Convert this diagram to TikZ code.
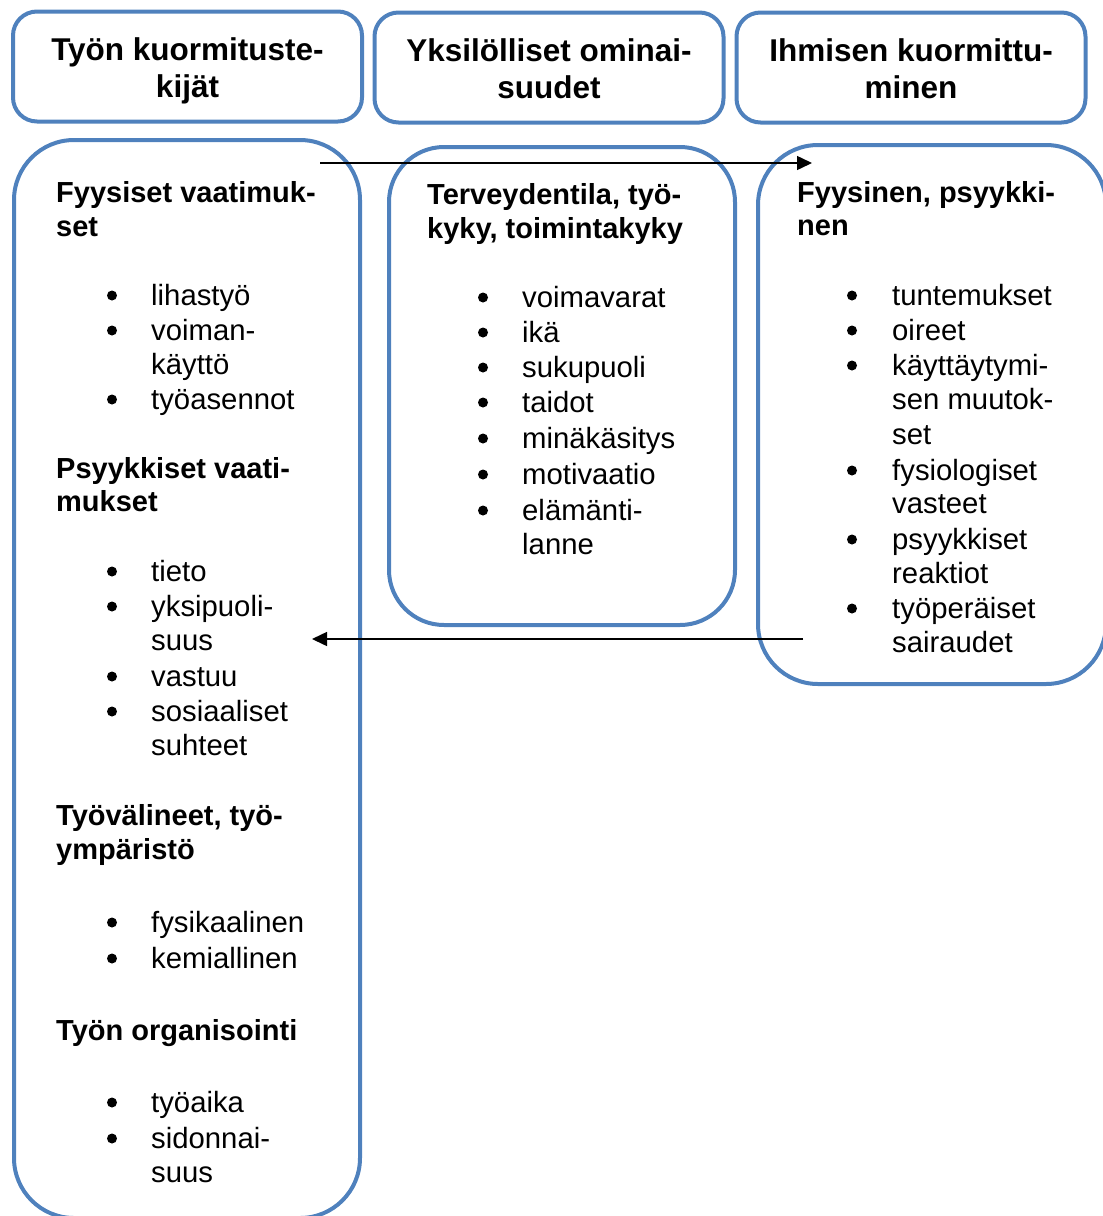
\documentclass[tikz,border=0pt]{standalone}
\usepackage{fontspec}
\setmainfont{Liberation Sans}
\usetikzlibrary{arrows.meta}
\definecolor{boxblue}{HTML}{4F81BD}
\begin{document}
\begin{tikzpicture}[x=1pt,y=-1pt,
  hbox/.style={draw=boxblue, line width=4pt, rounded corners=24pt, minimum width=349pt, minimum height=110pt, inner sep=0pt},
  bigbox/.style={draw=boxblue, line width=4pt, inner sep=0pt},
  htxt/.style={anchor=base, inner sep=0pt, font=\fontsize{31.5}{37}\selectfont\bfseries},
  hd/.style={anchor=base west, inner sep=0pt, font=\fontsize{29}{34.5}\selectfont\bfseries},
  it/.style={anchor=base west, inner sep=0pt, font=\fontsize{29.3}{34.5}\selectfont},
  bul/.style={circle, fill=black, inner sep=0pt, minimum size=10pt, yshift=9.5pt},
  arr/.style={line width=1.5pt, -{Triangle[length=15pt,width=14pt]}}
]
\useasboundingbox (0,0) rectangle (1103,1216);

% top boxes
\node[hbox] (T1) at (187.5,66.5) {};
\node[htxt] (T1a) at (187.5,60) {Työn kuormituste-};
\node[htxt] (T1b) at (187.5,97) {kijät};
\node[hbox] (T2) at (549,67.5) {};
\node[htxt] (T2a) at (549,61) {Yksilölliset ominai-};
\node[htxt] (T2b) at (549,98) {suudet};
\node[hbox] (T3) at (911,67.5) {};
\node[htxt] (T3a) at (911,61) {Ihmisen kuormittu-};
\node[htxt] (T3b) at (911,98) {minen};

% big boxes
\node[bigbox, rounded corners=60pt, minimum width=346pt, minimum height=1078pt] (L) at (187,679) {};
\node[bigbox, rounded corners=55pt, minimum width=346pt, minimum height=478pt] (M) at (562,386) {};
\node[bigbox, rounded corners=60pt, minimum width=348pt, minimum height=539pt] (R) at (932,414.5) {};

% left box content
\node[hd] (Lh1a) at (56,202) {Fyysiset vaatimuk-};
\node[hd] (Lh1b) at (56,236) {set};
\node[bul] (Lb1) at (112,305) {}; \node[it] (Li1) at (151,305) {lihastyö};
\node[bul] (Lb2) at (112,340) {}; \node[it] (Li2) at (151,340) {voiman-};
\node[it] (Li2b) at (151,374) {käyttö};
\node[bul] (Lb3) at (112,409) {}; \node[it] (Li3) at (151,409) {työasennot};

\node[hd] (Lh2a) at (56,478) {Psyykkiset vaati-};
\node[hd] (Lh2b) at (56,511) {mukset};
\node[bul] (Lb4) at (112,581) {}; \node[it] (Li4) at (151,581) {tieto};
\node[bul] (Lb5) at (112,616) {}; \node[it] (Li5) at (151,616) {yksipuoli-};
\node[it] (Li5b) at (151,650) {suus};
\node[bul] (Lb6) at (112,686) {}; \node[it] (Li6) at (151,686) {vastuu};
\node[bul] (Lb7) at (112,721) {}; \node[it] (Li7) at (151,721) {sosiaaliset};
\node[it] (Li7b) at (151,755) {suhteet};

\node[hd] (Lh3a) at (56,825) {Työvälineet, työ-};
\node[hd] (Lh3b) at (56,859) {ympäristö};
\node[bul] (Lb8) at (112,932) {}; \node[it] (Li8) at (151,932) {fysikaalinen};
\node[bul] (Lb9) at (112,968) {}; \node[it] (Li9) at (151,968) {kemiallinen};

\node[hd] (Lh4) at (56,1040) {Työn organisointi};
\node[bul] (Lb10) at (112,1112) {}; \node[it] (Li10) at (151,1112) {työaika};
\node[bul] (Lb11) at (112,1148) {}; \node[it] (Li11) at (151,1148) {sidonnai-};
\node[it] (Li11b) at (151,1182) {suus};

% middle box content
\node[hd] (Mh1a) at (427,204) {Terveydentila, työ-};
\node[hd] (Mh1b) at (427,238) {kyky, toimintakyky};
\node[bul] (Mb1) at (483,307) {}; \node[it] (Mi1) at (522,307) {voimavarat};
\node[bul] (Mb2) at (483,342) {}; \node[it] (Mi2) at (522,342) {ikä};
\node[bul] (Mb3) at (483,377) {}; \node[it] (Mi3) at (522,377) {sukupuoli};
\node[bul] (Mb4) at (483,412) {}; \node[it] (Mi4) at (522,412) {taidot};
\node[bul] (Mb5) at (483,448) {}; \node[it] (Mi5) at (522,448) {minäkäsitys};
\node[bul] (Mb6) at (483,484) {}; \node[it] (Mi6) at (522,484) {motivaatio};
\node[bul] (Mb7) at (483,520) {}; \node[it] (Mi7) at (522,520) {elämänti-};
\node[it] (Mi7b) at (522,554) {lanne};

% right box content
\node[hd] (Rh1a) at (797,202) {Fyysinen, psyykki-};
\node[hd] (Rh1b) at (797,235) {nen};
\node[bul] (Rb1) at (852,305) {}; \node[it] (Ri1) at (892,305) {tuntemukset};
\node[bul] (Rb2) at (852,340) {}; \node[it] (Ri2) at (892,340) {oireet};
\node[bul] (Rb3) at (852,375) {}; \node[it] (Ri3) at (892,375) {käyttäytymi-};
\node[it] (Ri3b) at (892,409) {sen muutok-};
\node[it] (Ri3c) at (892,444) {set};
\node[bul] (Rb4) at (852,480) {}; \node[it] (Ri4) at (892,480) {fysiologiset};
\node[it] (Ri4b) at (892,513) {vasteet};
\node[bul] (Rb5) at (852,549) {}; \node[it] (Ri5) at (892,549) {psyykkiset};
\node[it] (Ri5b) at (892,583) {reaktiot};
\node[bul] (Rb6) at (852,618) {}; \node[it] (Ri6) at (892,618) {työperäiset};
\node[it] (Ri6b) at (892,652) {sairaudet};

% arrows
\coordinate (A1s) at (320,163);
\coordinate (A1e) at (812,163);
\coordinate (A2s) at (803,639);
\coordinate (A2e) at (312,639);
\draw[arr] (A1s) -- (A1e);
\draw[arr] (A2s) -- (A2e);
\end{tikzpicture}
\end{document}
